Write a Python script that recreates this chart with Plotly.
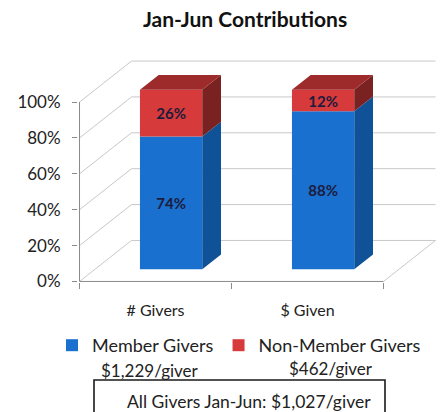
import plotly.graph_objects as go

# ---------------- data ----------------
title_text = "Jan-Jun Contributions"
categories = ["# Givers", "$ Given"]
series_names = ["Member Givers", "Non-Member Givers"]
member_pct = [74, 88]
nonmember_pct = [26, 12]
per_giver = ["$1,229/giver", "$462/giver"]
all_givers_text = "All Givers Jan-Jun: $1,027/giver"
y_ticks = [0, 20, 40, 60, 80, 100]
y_tick_labels = ["0%", "20%", "40%", "60%", "80%", "100%"]

# ---------------- styling / geometry ----------------
FONT = "Lato"
FRONT = ["#1a70cf", "#d73a3a"]
SIDE = ["#0f5297", "#7a2121"]
TOP = ["#1560b0", "#9e2b2b"]
GRID = "#c8c8c8"
AXIS = "#8a8a8a"

W, H = 441, 412
ML, MR, MT, MB = 78, 2, 58, 130
PXX = 152.0            # px per category unit
PXY = 1.794            # px per percent
DX = 52 / PXX          # full depth offset (x units)
DY = 41 / PXY          # full depth offset (percent units)
F0, F1 = 0.30, 0.66    # bar depth start / end (fraction of full depth)
BW = 0.41              # bar width (category units)

pw, ph = W - ML - MR, H - MT - MB
x_range = [-0.51, -0.51 + pw / PXX]
y_range = [-0.3, -0.3 + ph / PXY]

n = len(categories)
x_left, x_right = -0.5, n - 0.5
series = [member_pct, nonmember_pct]

fig = go.Figure()

# front faces: real bars, stacked by explicit base, pushed back by depth F0
bases = [F0 * DY] * n
for s, vals in enumerate(series):
    fig.add_trace(go.Bar(
        x=[i + F0 * DX for i in range(n)], y=vals, base=list(bases), width=BW,
        name=series_names[s], marker=dict(color=FRONT[s], line=dict(width=0)),
        text=[f"{v}%" for v in vals], textposition="inside",
        insidetextanchor="middle", constraintext="none",
        textfont=dict(family=FONT, size=15, color="#1c1c3c", weight="bold"),
        hoverinfo="skip",
    ))
    bases = [b + v for b, v in zip(bases, vals)]

# side and top faces computed from the same values
bdx, bdy = (F1 - F0) * DX, (F1 - F0) * DY
bases = [F0 * DY] * n
for s, vals in enumerate(series):
    sx, sy = [], []
    for i in range(n):
        xr = i + F0 * DX + BW / 2
        y0, y1 = bases[i], bases[i] + vals[i]
        sx += [xr, xr + bdx, xr + bdx, xr, xr, None]
        sy += [y0, y0 + bdy, y1 + bdy, y1, y0, None]
    fig.add_trace(go.Scatter(x=sx, y=sy, mode="lines", fill="toself",
                             fillcolor=SIDE[s], line=dict(width=0),
                             showlegend=False, hoverinfo="skip"))
    bases = [b + v for b, v in zip(bases, vals)]

tx, ty = [], []
for i in range(n):
    xl = i + F0 * DX - BW / 2
    xr = xl + BW
    yt = bases[i]
    tx += [xl, xr, xr + bdx, xl + bdx, xl, None]
    ty += [yt, yt, yt + bdy, yt + bdy, yt, None]
fig.add_trace(go.Scatter(x=tx, y=ty, mode="lines", fill="toself",
                         fillcolor=TOP[-1], line=dict(width=0),
                         showlegend=False, hoverinfo="skip"))

# 3-D grid (walls and floor) behind the bars
shapes = []
for v in y_ticks:
    shapes.append(dict(type="line", xref="x", yref="y", layer="below",
                       x0=x_left, y0=v, x1=x_left + DX, y1=v + DY,
                       line=dict(color=GRID, width=1)))
    shapes.append(dict(type="line", xref="x", yref="y", layer="below",
                       x0=x_left + DX, y0=v + DY, x1=x_right + DX, y1=v + DY,
                       line=dict(color=GRID, width=1)))
shapes.append(dict(type="line", xref="x", yref="y", layer="below",
                   x0=x_right, y0=0, x1=x_right + DX, y1=DY,
                   line=dict(color=GRID, width=1)))
shapes.append(dict(type="line", xref="x", yref="y", layer="below",
                   x0=x_left, y0=0, x1=x_right, y1=0,
                   line=dict(color=AXIS, width=1)))
shapes.append(dict(type="line", xref="x", yref="y", layer="below",
                   x0=x_left, y0=0, x1=x_left, y1=max(y_ticks),
                   line=dict(color=AXIS, width=1)))

# box around the overall figure text (paper coords from pixel layout)
def px_to_paper(px, py):
    return (px - ML) / pw, (H - MB - py) / ph

bx0, by0 = px_to_paper(94, 380)
bx1, by1 = px_to_paper(385, 425)
shapes.append(dict(type="rect", xref="paper", yref="paper",
                   x0=bx0, y0=by0, x1=bx1, y1=by1,
                   line=dict(color="#1a1a1a", width=1.6)))

annotations = []
for txt, (px, py) in zip(per_giver, [(150, 370), (331, 368)]):
    ax, ay = px_to_paper(px, py)
    annotations.append(dict(text=txt, x=ax, y=ay, xref="paper", yref="paper",
                            showarrow=False, xanchor="center", yanchor="middle",
                            font=dict(family=FONT, size=17, color="#222222")))
ax, ay = px_to_paper(249, 401)
annotations.append(dict(text=all_givers_text, x=ax, y=ay, xref="paper",
                        yref="paper", showarrow=False, xanchor="center",
                        yanchor="middle",
                        font=dict(family=FONT, size=17.5, color="#222222")))

lx, ly = px_to_paper(52, 327)

fig.update_layout(
    width=W, height=H,
    margin=dict(l=ML, r=MR, t=MT, b=MB, pad=0),
    paper_bgcolor="white", plot_bgcolor="white",
    barmode="overlay",
    title=dict(text=f"<b>{title_text}</b>", x=245 / W, xanchor="center",
               y=1 - 20 / H, yanchor="middle", xref="container", yref="container",
               font=dict(family=FONT, size=21, color="#111111")),
    xaxis=dict(range=x_range, showgrid=False, zeroline=False, showline=False,
               tickmode="array", tickvals=list(range(n)), ticktext=categories,
               ticks="", ticklabelstandoff=17,
               tickfont=dict(family=FONT, size=16, color="#222222"),
               minor=dict(tickmode="array",
                          tickvals=[x_left + k for k in range(n + 1)],
                          ticks="outside", ticklen=6, tickcolor=AXIS,
                          showgrid=False)),
    yaxis=dict(range=y_range, showgrid=False, zeroline=False, showline=False,
               tickmode="array", tickvals=y_ticks, ticktext=y_tick_labels,
               ticks="outside", ticklen=5, tickcolor=AXIS,
               ticklabelstandoff=8,
               tickfont=dict(family=FONT, size=17, color="#222222")),
    showlegend=True,
    legend=dict(orientation="h", x=lx, y=ly, xanchor="left", yanchor="top",
                font=dict(family=FONT, size=18, color="#222222"),
                traceorder="normal", bgcolor="rgba(0,0,0,0)"),
    shapes=shapes, annotations=annotations,
)

fig.write_html(
    "out.html",
    config={"displayModeBar": False},
    post_script="document.body.style.margin='0';document.body.style.overflow='hidden';",
)
